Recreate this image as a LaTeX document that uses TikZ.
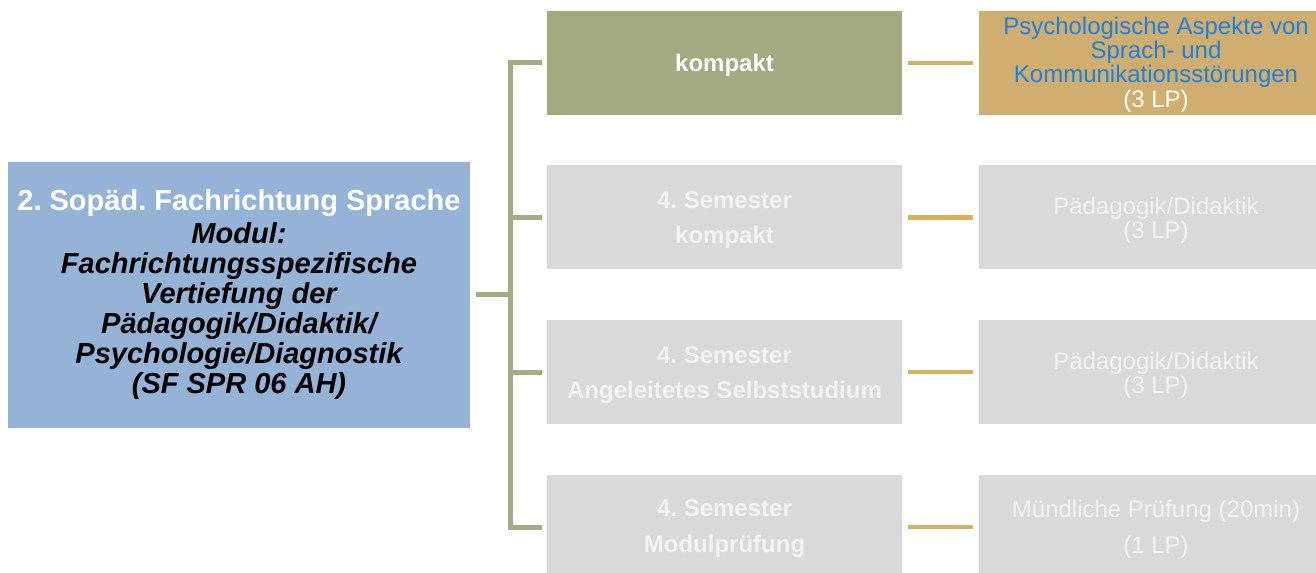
\documentclass[tikz,border=0pt]{standalone}
\usepackage{fontspec}
\setmainfont{Liberation Sans}
\frenchspacing
\definecolor{leftblue}{RGB}{149,179,215}
\definecolor{olive}{RGB}{164,170,128}
\definecolor{oliveline}{RGB}{165,171,130}
\definecolor{goldline}{RGB}{214,176,92}
\definecolor{tan}{RGB}{207,174,112}
\definecolor{bluetext}{RGB}{30,128,220}
\definecolor{greybox}{RGB}{217,217,217}
\definecolor{greytext}{RGB}{243,243,243}
\begin{document}
\begin{tikzpicture}[x=0.75pt,y=-0.75pt,
  mainbox/.style={draw=none, inner sep=0pt, align=center},
  leftbox/.style={mainbox, fill=leftblue, minimum width=346.5pt, minimum height=199.5pt},
  midbox/.style={mainbox, minimum width=266.25pt, minimum height=78pt},
  rightbox/.style={mainbox, minimum width=265.5pt, minimum height=78pt},
  txt/.style={inner sep=0pt, align=center},
  midfont/.style={font={\fontsize{18}{26.25}\selectfont\bfseries}},
  greenconn/.style={draw=oliveline, line width=3.75pt},
  goldconn/.style={draw=goldline, line width=3.6pt}
]
\useasboundingbox (0,0) rectangle (1316,573);
\clip (0,0) rectangle (1316,573);

% left box
\node[leftbox, font={\fontsize{21.75}{22.5}\selectfont\bfseries}] (L) at (239,295) {
  \textcolor{white}{2. Sopäd. Fachrichtung Sprache}\\[2.25pt]
  \itshape Modul:\\ \itshape Fachrichtungsspezifische\\ \itshape Vertiefung der\\
  \itshape Pädagogik/Didaktik/\\ \itshape Psychologie/Diagnostik\\ \itshape (SF SPR 06 AH)};

% middle boxes
\node[midbox, fill=olive] (M1) at (724.5,63) {};
\node[midbox, fill=greybox] (M2) at (724.5,217.5) {};
\node[midbox, fill=greybox] (M3) at (724.5,372) {};
\node[midbox, fill=greybox] (M4) at (724.5,527) {};
\node[txt, midfont, text=white] (M1t) at ([yshift=-1.9pt]M1.center) {kompakt};
\node[txt, midfont, text=greytext] (M2t) at ([yshift=-2.1pt]M2.center) {4. Semester\\ kompakt};
\node[txt, midfont, text=greytext] (M3t) at ([yshift=-2.1pt]M3.center) {4. Semester\\ Angeleitetes Selbststudium};
\node[txt, text=greytext, font={\fontsize{18}{27}\selectfont\bfseries}] (M4t) at ([yshift=-1.5pt]M4.center) {4. Semester\\ Modulprüfung};

% right boxes
\node[rightbox, fill=tan] (R1) at (1156,63) {};
\node[rightbox, fill=greybox] (R2) at (1156,217.5) {};
\node[rightbox, fill=greybox] (R3) at (1156,372) {};
\node[rightbox, fill=greybox] (R4) at (1156,527) {};
\node[txt, font={\fontsize{18}{18.2}\selectfont}] (R1t) at ([yshift=-1.2pt]R1.center) {
  \textcolor{bluetext}{Psychologische Aspekte von}\\ \textcolor{bluetext}{Sprach- und}\\
  \textcolor{bluetext}{Kommunikationsstörungen}\\ \textcolor{white}{(3 LP)}};
\node[txt, text=greytext, font={\fontsize{18}{18}\selectfont}] (R2t) at ([yshift=-2.1pt]R2.center) {Pädagogik/Didaktik\\ (3 LP)};
\node[txt, text=greytext, font={\fontsize{18}{18}\selectfont}] (R3t) at ([yshift=-2.1pt]R3.center) {Pädagogik/Didaktik\\ (3 LP)};
\node[txt, text=greytext, font={\fontsize{18}{27}\selectfont}] (R4t) at ([yshift=-1.5pt]R4.center) {Mündliche Prüfung (20min)\\ (1 LP)};

% green tree connectors
\coordinate (J) at (510,295);
\draw[greenconn] ([xshift=4.5pt]L.east |- J) -- (J);
\draw[greenconn] (J) |- ([xshift=-3.75pt]M1.west);
\draw[greenconn] (J) |- ([xshift=-3.75pt]M2.west);
\draw[greenconn] (J) |- ([xshift=-3.75pt]M3.west);
\draw[greenconn] (J) |- ([xshift=-3.75pt]M4.west);

% gold connectors
\draw[goldconn] ([xshift=4pt]M1.east) -- ([xshift=-4pt]R1.west);
\draw[goldconn] ([xshift=4pt]M2.east) -- ([xshift=-4pt]R2.west);
\draw[goldconn] ([xshift=4pt]M3.east) -- ([xshift=-4pt]R3.west);
\draw[goldconn] ([xshift=4pt]M4.east) -- ([xshift=-4pt]R4.west);
\end{tikzpicture}
\end{document}
